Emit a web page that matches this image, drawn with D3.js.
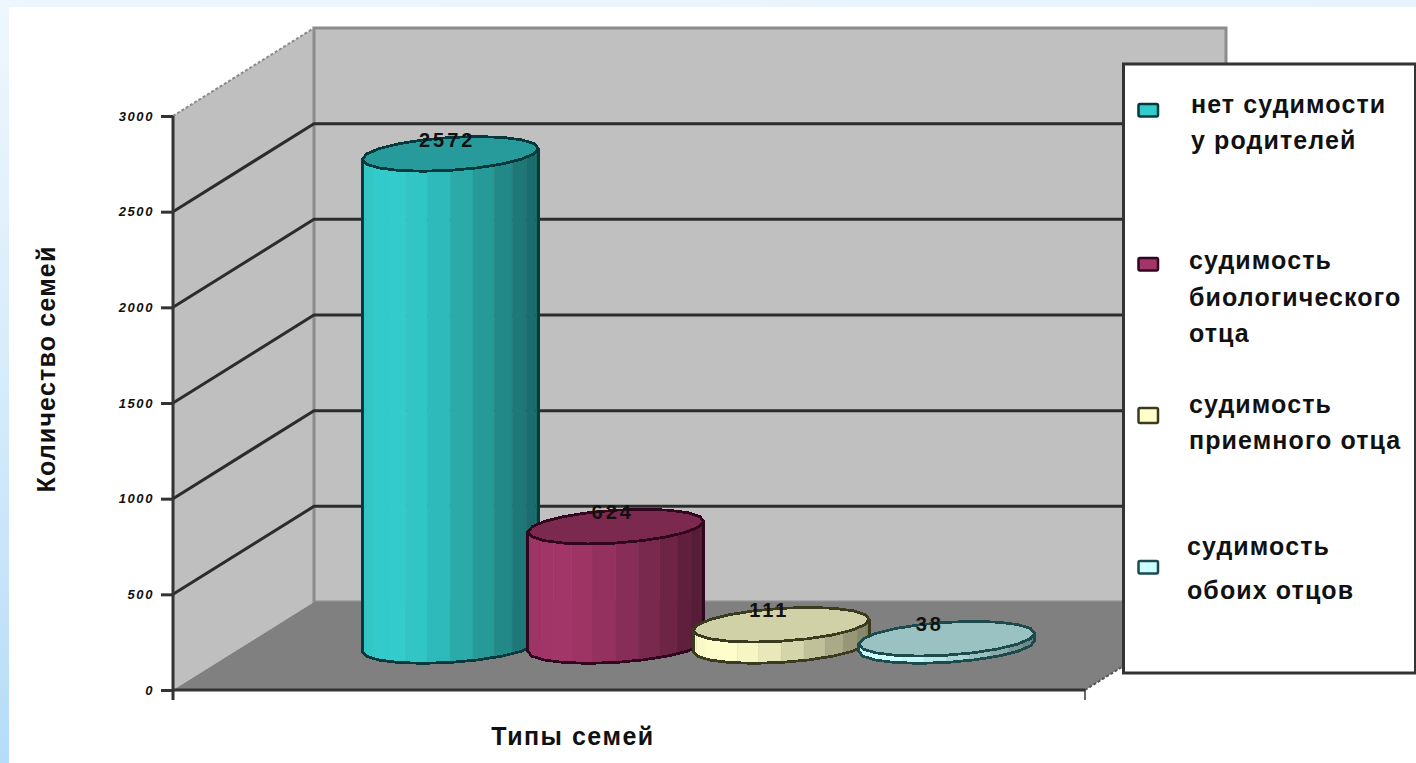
<!DOCTYPE html>
<html lang="ru">
<head>
<meta charset="utf-8">
<title>Типы семей</title>
<script src="https://cdn.jsdelivr.net/npm/d3@7"></script>
<style>
  html, body { margin: 0; padding: 0; background: #fff; }
  svg { display: block; }
  text { font-family: "Liberation Sans", Arial, sans-serif; fill: #111; }
</style>
</head>
<body>
<svg id="chart" width="1416" height="763"></svg>
<script>
// Chart data
const familyTypes = ["нет судимости у родителей", "судимость биологического отца", "судимость приемного отца", "судимость обоих отцов"];
const familyCounts = [2572, 624, 111, 38];
const tickValues = [0, 500, 1000, 1500, 2000, 2500, 3000];
const legendLines = [
  ["нет судимости", "у родителей"],
  ["судимость", "биологического", "отца"],
  ["судимость", "приемного отца"],
  ["судимость", "обоих отцов"]
];
const seriesColors = ["#33CCCC", "#A33668", "#FFFFCC", "#CCFFFF"];
const outlineColors = ["#05393b", "#33061f", "#3a3a1e", "#1d4a4c"];
const capShades = [0.76, 0.76, 0.82, 0.76];
const yTitle = "Количество семей";
const xTitle = "Типы семей";

const svg = d3.select("#chart");

// Slide backdrop: pale blue strips along the left and top edges
const defs = svg.append("defs");
const leftGrad = defs.append("linearGradient").attr("id", "edgeLeft")
  .attr("x1", 0).attr("y1", 0).attr("x2", 0).attr("y2", 1);
leftGrad.append("stop").attr("offset", 0).attr("stop-color", "#eef7fe");
leftGrad.append("stop").attr("offset", 0.5).attr("stop-color", "#d6ebfb");
leftGrad.append("stop").attr("offset", 1).attr("stop-color", "#b6dcf8");
const topGrad = defs.append("linearGradient").attr("id", "edgeTop");
topGrad.append("stop").attr("offset", 0).attr("stop-color", "#edf6fe");
topGrad.append("stop").attr("offset", 1).attr("stop-color", "#e6f3fd");
svg.append("rect").attr("width", 1416).attr("height", 7).attr("fill", "url(#edgeTop)");
svg.append("rect").attr("width", 9).attr("height", 763).attr("fill", "url(#edgeLeft)");

// Oblique box: front plane from the scales, depth as a fixed screen offset
const front = { left: 173, right: 1085 };
const depth = { dx: 141, dy: -88 };
const y = d3.scaleLinear().domain([0, 3000]).range([690, 116]);
const x = d3.scaleBand().domain(familyTypes).range([front.left + 124, front.right - 126]);
const project = (px, d, v) => [px + depth.dx * d, y(v) + depth.dy * d];
const polyLine = d3.line();

const topValue = y.domain()[1];
// Left wall
svg.append("path")
  .attr("d", polyLine([project(front.left, 0, 0), project(front.left, 0, topValue), project(front.left, 1, topValue), project(front.left, 1, 0)]) + "Z")
  .attr("fill", "#bfbfbf");
svg.append("path")
  .attr("d", polyLine([project(front.left, 0, topValue), project(front.left, 1, topValue)]))
  .attr("fill", "none").attr("stroke", "#8a8a8a").attr("stroke-width", 2).attr("stroke-dasharray", "3 2");
// Back wall
svg.append("path")
  .attr("d", polyLine([project(front.left, 1, 0), project(front.left, 1, topValue), project(front.right, 1, topValue), project(front.right, 1, 0)]) + "Z")
  .attr("fill", "#c0c0c0").attr("stroke", "#8c8c8c").attr("stroke-width", 3);
// Floor
svg.append("path")
  .attr("d", polyLine([project(front.left, 0, 0), project(front.left, 1, 0), project(front.right, 1, 0), project(front.right, 0, 0)]) + "Z")
  .attr("fill", "#808080");
svg.append("path")
  .attr("d", polyLine([project(front.right, 0, 0), project(front.right, 1, 0)]))
  .attr("fill", "none").attr("stroke", "#555").attr("stroke-width", 2).attr("stroke-dasharray", "3 2");

// Gridlines run along the side wall and then across the back wall
svg.append("g").selectAll("path").data(tickValues.filter(t => t > 0 && t < topValue)).join("path")
  .attr("d", t => polyLine([project(front.left, 0, t), project(front.left, 1, t), project(front.right, 1, t)]))
  .attr("fill", "none").attr("stroke", "#2c2c2c").attr("stroke-width", 3);

// Value axis and category baseline
const yAxis = d3.axisLeft(y).tickValues(tickValues).tickFormat(d3.format("d")).tickSize(12).tickPadding(7);
const yAxisG = svg.append("g").attr("transform", `translate(${front.left},0)`).call(yAxis);
yAxisG.select(".domain").attr("stroke", "#333").attr("stroke-width", 3)
  .attr("d", `M0,${y(topValue)}V${y(0) + 10}`);
yAxisG.selectAll(".tick line").attr("stroke", "#333").attr("stroke-width", 3);
yAxisG.selectAll(".tick text")
  .attr("font-size", 13).attr("letter-spacing", 1.6).attr("fill", "#222")
  .attr("font-style", "italic").attr("font-weight", "bold")
  .attr("font-family", "'Liberation Sans', sans-serif");

svg.append("path")
  .attr("d", polyLine([project(front.left, 0, 0), project(front.right, 0, 0)]))
  .attr("stroke", "#333").attr("stroke-width", 3).attr("fill", "none");
svg.append("path")
  .attr("d", polyLine([[front.right, y(0)], [front.right, y(0) + 10]]))
  .attr("stroke", "#333").attr("stroke-width", 1.5).attr("fill", "none");

// Cylinders: an oblique circle swept from the floor up to the value
const radius = { a: 83.5, depth: 0.197 };
const skew = radius.depth * depth.dx;
const tangent = Math.atan2(skew, radius.a);
const facetCount = 12;

function rimPoint(cx, v, t) {
  const base = project(cx, 0.5, v);
  return [
    base[0] + radius.a * Math.cos(t) + skew * Math.sin(t),
    base[1] + radius.depth * depth.dy * Math.sin(t)
  ];
}
function rim(cx, v, from, to, steps) {
  return d3.range(steps + 1).map(i => rimPoint(cx, v, from + (to - from) * i / steps));
}
// Facets darken from the lit left side to the right side
function facetShade(color, frac) {
  const lit = frac < 0.17 ? frac / 0.17 * 0.03 + 0.97 : 1 - Math.pow((frac - 0.17) / 0.83, 1.5) * 0.5;
  return d3.interpolateRgb("#000", color)(lit);
}

const bars = svg.append("g").selectAll("g").data(familyTypes).join("g");
bars.each(function (name, i) {
  const g = d3.select(this);
  const cx = x(name) + x.bandwidth() / 2;
  const value = familyCounts[i];
  const start = tangent + Math.PI;
  const sweepEnd = tangent + 2 * Math.PI;
  const facets = d3.range(facetCount);
  const facetAngle = k => start + (sweepEnd - start) * k / facetCount;
  const facetColor = k => {
    const mid = rimPoint(cx, 0, facetAngle(k + 0.5))[0];
    const left = rimPoint(cx, 0, start)[0];
    const right = rimPoint(cx, 0, sweepEnd)[0];
    return facetShade(seriesColors[i], (mid - left) / (right - left));
  };
  // Visible side, walked from the left silhouette to the right one along the near rim
  g.selectAll("path.facet").data(facets).join("path").attr("class", "facet")
    .attr("d", k => {
      const lower = rim(cx, 0, facetAngle(k), facetAngle(k + 1), 2);
      const upper = rim(cx, value, facetAngle(k + 1), facetAngle(k), 2);
      return polyLine(lower.concat(upper)) + "Z";
    })
    .attr("fill", facetColor)
    .attr("stroke", facetColor)
    .attr("stroke-width", 0.5);
  // Side outline
  const outline = rim(cx, 0, start, sweepEnd, 10).concat(rim(cx, value, sweepEnd, start, 10));
  g.append("path").attr("d", polyLine(outline) + "Z")
    .attr("fill", "none").attr("stroke", outlineColors[i]).attr("stroke-width", 2.8)
    .attr("stroke-linejoin", "round").attr("shape-rendering", "crispEdges");
  // Top cap
  g.append("path").attr("d", polyLine(rim(cx, value, 0, 2 * Math.PI, 20)) + "Z")
    .attr("fill", d3.interpolateRgb("#000", seriesColors[i])(capShades[i]))
    .attr("stroke", outlineColors[i]).attr("stroke-width", 2.8)
    .attr("stroke-linejoin", "round").attr("shape-rendering", "crispEdges");
});

// Value labels sit astride the far rim of each cap
const labelShift = [-3, -3, -12, -17];
svg.append("g").selectAll("text").data(familyTypes).join("text")
  .attr("x", (d, i) => x(d) + x.bandwidth() / 2 + depth.dx * 0.5 + labelShift[i])
  .attr("y", (d, i) => project(0, 0.5, familyCounts[i])[1] + radius.depth * depth.dy + 10)
  .attr("text-anchor", "middle")
  .attr("font-size", 20).attr("font-weight", "bold").attr("letter-spacing", 3)
  .text((d, i) => familyCounts[i]);

// Legend
const legendBox = { x: 1123.5, y: 64, w: 292, h: 609 };
svg.append("rect").attr("x", legendBox.x).attr("y", legendBox.y)
  .attr("width", legendBox.w).attr("height", legendBox.h)
  .attr("fill", "#fff").attr("stroke", "#333").attr("stroke-width", 3);

const legendSwatchY = [104, 258, 408, 561];
const legendSwatchH = [12.5, 12.5, 15, 12.5];
const legendTextX = [1191, 1189, 1189, 1187];
const legendBaselines = [[113, 149], [269, 306, 342], [413, 449], [555, 599]];
const legend = svg.append("g").selectAll("g").data(familyTypes).join("g");
legend.append("rect")
  .attr("x", 1138.5).attr("y", (d, i) => legendSwatchY[i])
  .attr("width", 19.5).attr("height", (d, i) => legendSwatchH[i]).attr("rx", 1.5)
  .attr("fill", (d, i) => seriesColors[i]).attr("stroke", (d, i) => outlineColors[i]).attr("stroke-width", 2.5);
legend.each(function (d, i) {
  d3.select(this).selectAll("text").data(legendLines[i]).join("text")
    .attr("x", legendTextX[i])
    .attr("y", (line, j) => legendBaselines[i][j])
    .attr("font-size", 25).attr("font-weight", "bold").attr("letter-spacing", 1.1)
    .text(line => line);
});

// Axis titles
svg.append("text")
  .attr("transform", "translate(55,369) rotate(-90)")
  .attr("text-anchor", "middle").attr("font-size", 25).attr("font-weight", "bold").attr("letter-spacing", 1.2)
  .text(yTitle);
svg.append("text")
  .attr("x", 573).attr("y", 745)
  .attr("text-anchor", "middle").attr("font-size", 25).attr("font-weight", "bold").attr("letter-spacing", 1.5)
  .text(xTitle);
</script>
</body>
</html>
